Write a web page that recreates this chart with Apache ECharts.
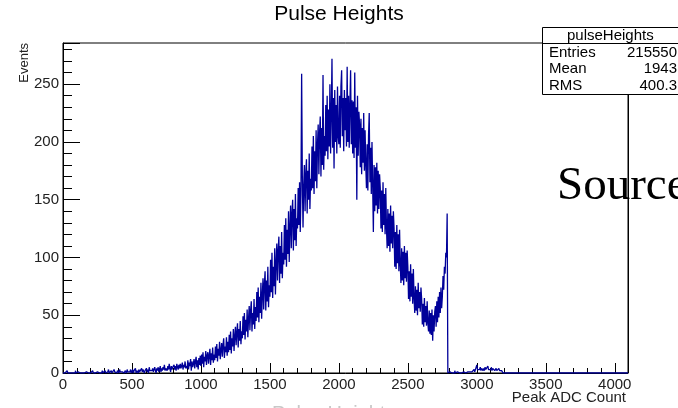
<!DOCTYPE html>
<html>
<head>
<meta charset="utf-8">
<script src="https://cdn.jsdelivr.net/npm/echarts@6/dist/echarts.min.js"></script>
<style>html,body{margin:0;padding:0;background:#fff;}#c{width:678px;height:408px;}</style>
</head>
<body>
<div id="c"></div>
<script>
// ---- data ----
const binWidth = 5;           // ADC counts per bin
const xMax = 4096;
const yMax = 285.6;
const counts = [
  0,0,1,0,0,0,2,0,0,1,
  0,1,0,0,0,1,0,0,2,0,
  0,0,1,0,2,0,0,1,0,0,
  1,0,0,0,1,0,2,0,0,1,
  0,1,0,2,0,0,1,0,1,0,
  1,0,2,0,0,1,0,2,0,1,
  0,2,0,1,1,0,3,0,1,0,
  2,0,1,0,3,1,0,1,0,2,
  1,0,3,1,0,2,1,0,2,0,
  2,1,0,3,1,0,2,1,3,0,
  1,3,0,2,1,4,0,2,1,0,
  3,1,2,0,4,1,3,2,0,2,
  2,4,1,3,0,5,2,1,3,2,
  4,1,3,5,2,0,4,2,5,1,
  3,6,1,4,2,5,3,7,2,4,
  5,2,6,3,8,4,1,6,3,5,
  4,7,3,6,2,8,5,3,7,4,
  8,4,6,9,3,7,5,10,4,6,
  4,11,3,9,6,12,2,10,5,8,
  12,4,10,14,5,11,3,13,7,15,
  6,16,8,18,5,14,10,19,7,15,
  18,8,15,21,7,17,11,22,9,16,
  11,23,13,25,10,21,15,27,12,20,
  26,14,24,30,13,23,18,31,15,27,
  18,33,20,36,17,30,23,38,19,32,
  40,24,35,43,22,38,28,45,25,36,
  30,49,33,52,29,46,36,55,31,47,
  58,37,54,62,36,52,42,64,38,57,
  45,70,48,74,44,66,52,78,47,68,
  82,55,77,88,54,80,62,92,57,76,
  66,98,70,104,65,92,75,108,68,95,
  112,80,106,118,78,110,86,122,82,104,
  94,128,98,134,92,124,103,140,96,126,
  145,108,138,150,106,142,115,155,110,134,
  125,160,128,165,122,155,259,170,126,162,
  180,140,172,185,138,175,150,190,142,168,
  158,196,160,205,155,192,166,210,160,198,
  215,172,208,222,170,212,180,258,176,205,
  188,232,192,240,185,228,196,250,190,225,
  272,195,238,177,245,200,232,190,248,205,
  198,240,195,248,262,205,238,192,245,210,
  238,196,265,200,240,195,232,262,198,236,
  190,235,186,260,195,230,150,240,188,226,
  215,178,220,172,212,182,225,175,210,180,
  160,198,158,205,225,165,195,155,200,162,
  122,180,140,178,145,182,138,175,142,172,
  160,125,158,122,165,128,155,120,160,126,
  108,142,110,138,105,145,112,136,108,140,
  125,92,122,90,128,95,120,88,124,94,
  78,108,80,105,76,110,82,104,79,106,
  92,64,88,62,94,66,86,60,90,65,
  52,75,54,72,50,78,56,70,53,74,
  64,42,60,40,65,44,58,41,62,43,
  36,54,34,52,33,55,28,50,36,53,
  58,40,62,44,66,48,70,52,74,56,
  66,84,72,92,86,104,100,138,0,1,
  0,1,0,0,0,1,0,0,2,0,
  0,0,1,0,1,0,0,1,0,1,
  1,0,0,2,0,1,0,1,2,0,
  1,2,0,1,2,1,3,1,2,1,
  7,3,2,4,3,5,2,4,3,2,
  4,2,5,3,4,2,6,3,4,3,
  3,5,2,4,3,5,2,3,4,2,
  3,2,4,2,3,1,2,1,0,0
];
const statsTitle = 'pulseHeights';
const statsLabels = ['Entries', 'Mean', 'RMS'];
const statsValues = ['215550', '1943', '400.3'];
const titleText = 'Pulse Heights';
const xTitle = 'Peak ADC Count';
const yTitle = 'Events';
const xInterval = 500;
const yInterval = 50;

// ---- build histogram steps ----
const histData = counts.map((c, i) => [i * binWidth, c]);
histData.push([counts.length * binWidth, counts[counts.length - 1]]);
histData.push([counts.length * binWidth, 0]);
histData.push([xMax, 0]);

const FONT = 'Liberation Sans, Arial, Helvetica, sans-serif';
const chart = echarts.init(document.getElementById('c'), null, {renderer: 'canvas'});

const statsTexts = [];
statsLabels.forEach((l, i) => {
  const y = 53 + i * 16.5;
  statsTexts.push({type: 'text', z: 101, left: 549, top: y - 8,
    style: {text: l, font: '15px ' + FONT, fill: '#000'}});
  statsTexts.push({type: 'text', z: 101, right: 1, top: y - 8,
    style: {text: statsValues[i], font: '15px ' + FONT, fill: '#000', textAlign: 'right'}});
});

chart.setOption({
  animation: false,
  backgroundColor: '#fff',
  grid: {left: 63, right: 50, top: 43, bottom: 35, show: true, borderColor: '#000', borderWidth: 1, backgroundColor: 'transparent'},
  xAxis: {
    type: 'value', min: 0, max: xMax, interval: xInterval,
    axisLine: {show: true, lineStyle: {color: '#000', width: 1}},
    axisTick: {show: true, inside: true, length: 10, lineStyle: {color: '#000'}},
    minorTick: {show: true, splitNumber: 5, length: 5, lineStyle: {color: '#000'}},
    splitLine: {show: false},
    axisLabel: {margin: 4, fontSize: 15, fontFamily: FONT, color: '#222', showMaxLabel: false,
      formatter: v => String(v)}
  },
  yAxis: {
    type: 'value', min: 0, max: yMax, interval: yInterval,
    axisLine: {show: true, lineStyle: {color: '#000', width: 1}},
    axisTick: {show: true, inside: true, length: 17, lineStyle: {color: '#000'}},
    minorTick: {show: true, splitNumber: 5, length: 9, lineStyle: {color: '#000'}},
    splitLine: {show: false},
    axisLabel: {margin: 4, fontSize: 15, fontFamily: FONT, color: '#222', showMaxLabel: false,
      formatter: v => String(v)}
  },
  series: [{
    type: 'line', data: histData, step: 'end', showSymbol: false, symbol: 'none',
    sampling: null, clip: true, silent: true,
    lineStyle: {color: '#000099', width: 1.3}
  }],
  graphic: [
    {type: 'text', z: 50, left: 557, top: 190 - 27,
      style: {text: 'Source', font: '47px "Liberation Serif", "Times New Roman", serif', fill: '#000'}},
    {type: 'line', z: 60, shape: {x1: 628.5, y1: 43, x2: 628.5, y2: 373}, style: {stroke: '#000', lineWidth: 1}},
    {type: 'text', z: 50, left: 'center', top: 4,
      style: {text: titleText, font: '21px ' + FONT, fill: '#000'}},
    {type: 'text', z: 50, left: 18, top: 43, rotation: Math.PI / 2,
      style: {text: yTitle, font: '13px ' + FONT, fill: '#222'}},
    {type: 'text', z: 50, right: 52, top: 390,
      style: {text: xTitle, font: '15px ' + FONT, fill: '#222'}},
    {type: 'text', z: 50, left: 272, top: 404,
      style: {text: 'Pulse Heights', font: '20px ' + FONT, fill: '#c8c8c8'}},
    {type: 'rect', z: 100, shape: {x: 542.5, y: 27.5, width: 150, height: 67}, style: {fill: '#fff', stroke: '#000', lineWidth: 1}},
    {type: 'line', z: 101, shape: {x1: 542.5, y1: 43.5, x2: 678, y2: 43.5}, style: {stroke: '#000', lineWidth: 1}},
    {type: 'text', z: 101, left: 567, top: 28,
      style: {text: statsTitle, font: '15px ' + FONT, fill: '#000'}}
  ].concat(statsTexts)
});
</script>
</body>
</html>
